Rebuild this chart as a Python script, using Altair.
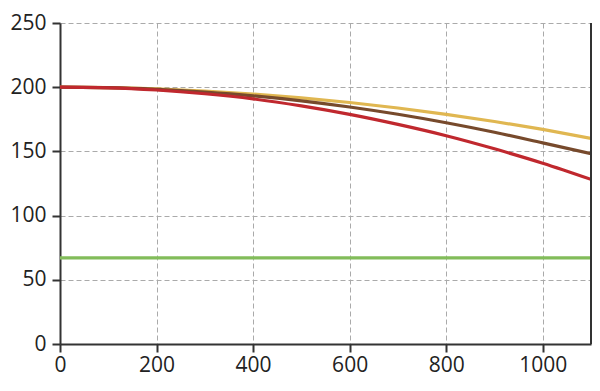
import altair as alt
import pandas as pd

distance = [0, 100, 200, 300, 400, 500, 600, 700, 800, 900, 1000, 1100]
yellow = [200, 199.7, 198.7, 197.0, 194.7, 191.7, 188.1, 183.8, 178.9, 173.3, 167.1, 160.2]
brown = [200, 199.6, 198.3, 196.2, 193.3, 189.4, 184.6, 178.9, 172.3, 164.9, 156.6, 148.2]
red = [200, 199.5, 197.8, 194.9, 190.9, 185.4, 178.8, 171.0, 162.2, 152.0, 140.8, 128.2]
green = [67] * len(distance)

x_ticks = [0, 200, 400, 600, 800, 1000]
y_ticks = [0, 50, 100, 150, 200, 250]

series_names = ["green", "yellow", "brown", "red"]
series_colors = ["#82BC5A", "#E0B751", "#774A2C", "#C0282E"]

rows = []
for name, vals in zip(series_names, [green, yellow, brown, red]):
    for d, v in zip(distance, vals):
        rows.append({"x": d, "y": v, "series": name})
df = pd.DataFrame(rows)

FONT = "Open Sans"
FS = 21

x_scale = alt.Scale(domain=[0, 1100], nice=False, zero=False)
y_scale = alt.Scale(domain=[0, 250], nice=False)

common = dict(title=None, grid=True, gridDash=[5, 3], gridColor="#AAAAAA", gridWidth=1,
              domainColor="#333333", domainWidth=2,
              tickColor="#333333", tickWidth=2, tickSize=8,
              labelFont=FONT, labelFontSize=FS, labelColor="#222222",
              labelFlush=False, labelOverlap=False, format="d")

lines = alt.Chart(df).mark_line(strokeWidth=3.2, interpolate="monotone", clip=True).encode(
    x=alt.X("x:Q", scale=x_scale, axis=alt.Axis(values=x_ticks, labelPadding=2, **common)),
    y=alt.Y("y:Q", scale=y_scale, axis=alt.Axis(values=y_ticks, labelPadding=6, **common)),
    color=alt.Color("series:N", scale=alt.Scale(domain=series_names, range=series_colors), legend=None),
    order=alt.Order("series:N"),
)

right_edge = pd.DataFrame({"x": [1100], "y0": [0], "y1": [250]})
edge = alt.Chart(right_edge).mark_rule(color="#333333", strokeWidth=2).encode(
    x=alt.X("x:Q", scale=x_scale),
    y=alt.Y("y0:Q", scale=y_scale),
    y2="y1:Q",
)

chart = alt.layer(lines, edge).properties(
    width=531,
    height=321,
    autosize=alt.AutoSizeParams(type="none"),
    padding={"left": 52, "top": 15, "right": 1, "bottom": 38},
).configure_view(stroke=None)

chart.save("out.html", embed_options={"renderer": "svg", "actions": False})
